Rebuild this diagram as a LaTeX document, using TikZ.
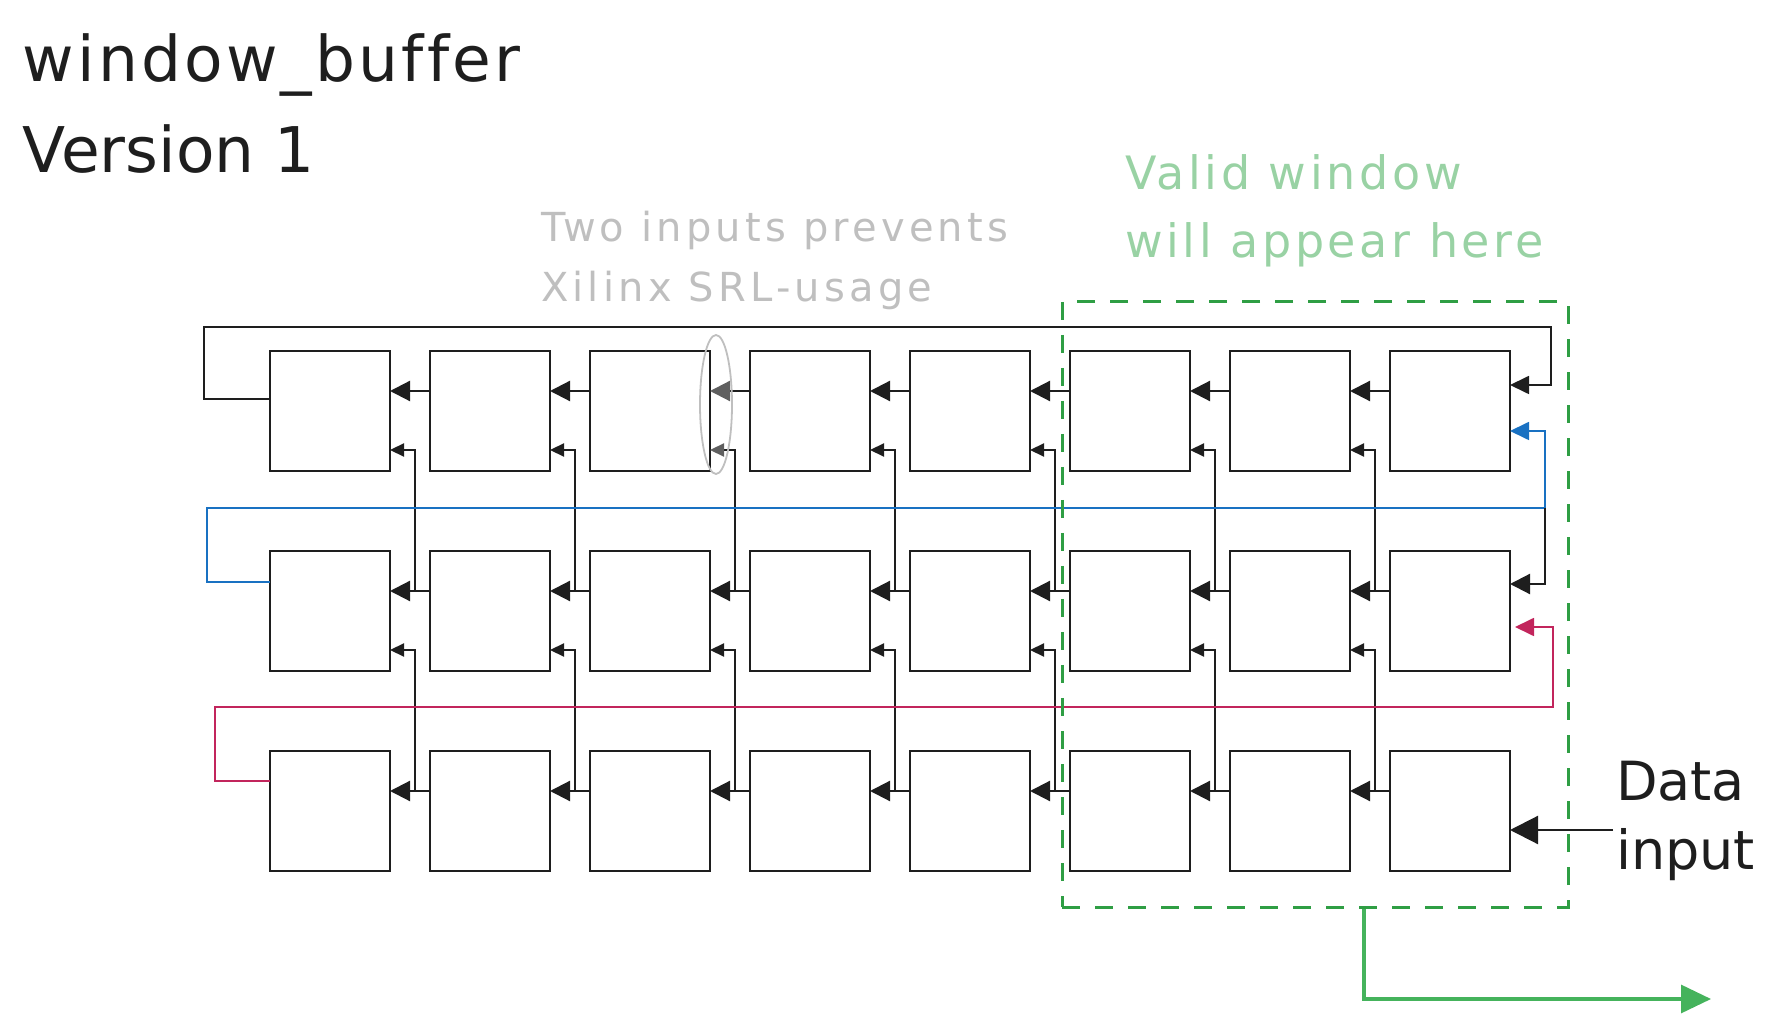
\documentclass[tikz,border=0pt]{standalone}
\usepackage{fontspec}
\setmainfont{DejaVu Sans}
\usetikzlibrary{arrows.meta,shapes.geometric}

\tikzset{
  cell/.style={draw=kInk,line width=1.3pt,minimum size=60pt,inner sep=0pt,outer sep=0pt},
  flow/.style={draw=kInk,line width=1.1pt,-{Triangle[length=10pt,width=10pt]}},
  side/.style={draw=kInk,line width=1.1pt,-{Triangle[length=7pt,width=6.5pt]}},
  srl-0-2/.style={-{Triangle[length=10pt,width=10pt,color=kDarkGrey]}},
  srl-low-0-2/.style={-{Triangle[length=7pt,width=6.5pt,color=kDarkGrey]}},
  wrap/.style={line width=0.9pt,-{Triangle[length=9.5pt,width=9pt]}},
  label/.style={anchor=base west,inner sep=0pt,outer sep=0pt,align=left}
}

\begin{document}
\begin{tikzpicture}[x=0.5pt,y=-0.5pt]
  \definecolor{kInk}{HTML}{1E1E1E}
  \definecolor{kBlue}{HTML}{1971C2}
  \definecolor{kRed}{HTML}{C2255C}
  \definecolor{kGreen}{HTML}{2F9E44}
  \definecolor{kOutGreen}{HTML}{45B35C}
  \definecolor{kPaleGreen}{HTML}{99D2A4}
  \definecolor{kGrey}{HTML}{BFBFBF}
  \definecolor{kDarkGrey}{HTML}{5F5F5F}

  \useasboundingbox (0,0) rectangle (1785,1021);

  % titles (anchored on the last line)
  \node[label,text=kInk,font=\fontsize{31.5}{45.5}\selectfont] (title) at (23,173) {{\addfontfeature{LetterSpace=5,Ligatures=NoCommon}window\_buffer}\\Version 1};
  \node[label,text=kGrey,font=\fontsize{20}{30}\selectfont\addfontfeature{LetterSpace=10.5}] (note) at (541,302) {Two inputs prevents\\Xilinx SRL-usage};
  \node[label,text=kPaleGreen,font=\fontsize{23}{34}\selectfont\addfontfeature{LetterSpace=8}] (hint) at (1125,258) {Valid window\\will appear here};
  \node[label,text=kInk,font=\fontsize{27}{34.5}\selectfont] (data) at (1616,869) {Data\\input};

  % registers
  \foreach \r in {0,1,2}
    \foreach \c in {0,...,7}
      \node[cell] (b-\r-\c) at (330+160*\c,411+200*\r) {};

  % shift along each row
  \foreach \r in {0,1,2}
    \foreach \c/\n in {0/1,1/2,2/3,3/4,4/5,5/6,6/7}
      \draw[flow,srl-\r-\c/.try] ([yshift=10pt]b-\r-\n.west) -- ([yshift=10pt]b-\r-\c.east);

  % second input, taken from the row below
  \foreach \r/\s in {0/1,1/2}
    \foreach \c in {0,...,6}
      \draw[side,srl-low-\r-\c/.try] ([xshift=12.5pt,yshift=10pt]b-\s-\c.east) |- ([yshift=-19.5pt]b-\r-\c.east);

  % wrap-around lines
  \coordinate (topL) at (204,327);
  \coordinate (topR) at (1551,327);
  \draw[wrap,draw=kInk] ([yshift=6pt]b-0-0.west) -| (topL) -- (topR) |- ([yshift=13pt]b-0-7.east);

  \coordinate (blueL) at (207,508);
  \coordinate (blueR) at (1545,508);
  \draw[wrap,draw=kBlue] ([yshift=14.5pt]b-1-0.west) -| (blueL) -- (blueR) |- ([yshift=-10pt]b-0-7.east);
  \draw[flow] (blueR) |- ([yshift=13.5pt]b-1-7.east);

  \coordinate (redL) at (215,707);
  \coordinate (redR) at (1553,707);
  \coordinate (redEnd) at (1515,627);
  \draw[wrap,draw=kRed] ([yshift=15pt]b-2-0.west) -| (redL) -- (redR) |- (redEnd);

  % data input
  \coordinate (dataIn) at (1613,830);
  \draw[kInk,line width=1.1pt,-{Triangle[length=14pt,width=14pt]}] (dataIn) -- (b-2-7.east |- dataIn);

  % SRL note
  \node[ellipse,draw=kGrey,line width=0.9pt,minimum width=16pt,minimum height=69.5pt,inner sep=0pt] (srl) at (716,404.5) {};

  % valid window
  \node[draw=kGreen,line width=1.5pt,dash pattern=on 9pt off 7.5pt,minimum width=253pt,minimum height=302.5pt,inner sep=0pt] (valid) at (1315,604.5) {};
  \coordinate (outEnd) at (1711,999);
  \draw[kOutGreen,line width=1.6pt,-{Triangle[length=15pt,width=14pt]}] ([xshift=24.5pt]valid.south) |- (outEnd);
\end{tikzpicture}
\end{document}
